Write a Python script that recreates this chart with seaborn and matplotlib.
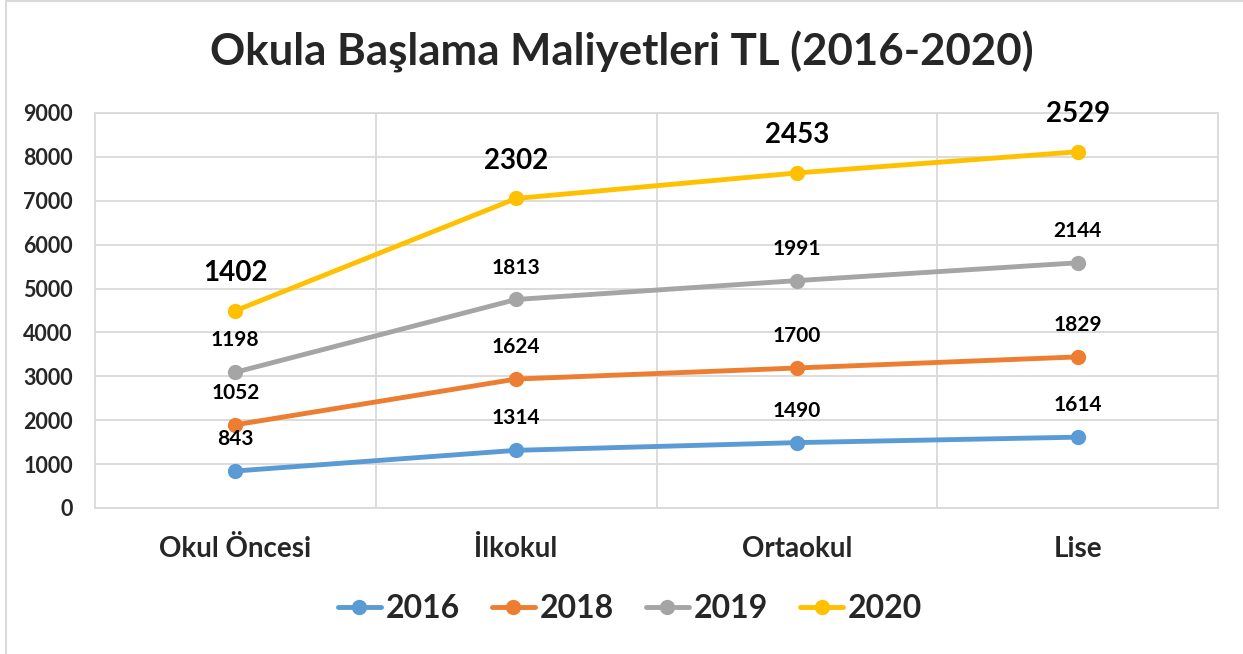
import pandas as pd
import seaborn as sns
import matplotlib.pyplot as plt
from matplotlib.patches import Rectangle

categories = ["Okul Öncesi", "İlkokul", "Ortaokul", "Lise"]
years = ["2016", "2018", "2019", "2020"]
cost_2016 = [843, 1314, 1490, 1614]
cost_2018 = [1052, 1624, 1700, 1829]
cost_2019 = [1198, 1813, 1991, 2144]
cost_2020 = [1402, 2302, 2453, 2529]
colors = ["#5B9BD5", "#ED7D31", "#A5A5A5", "#FFC000"]


def make_plot():
    # stacked lines: each series sits on top of the previous ones
    series = [cost_2016, cost_2018, cost_2019, cost_2020]
    rows = []
    running = [0] * len(categories)
    for year, vals in zip(years, series):
        running = [r + v for r, v in zip(running, vals)]
        for i, (cat, v, top) in enumerate(zip(categories, vals, running)):
            rows.append({"Kategori": cat, "pos": i, "Yıl": year, "deger": v, "toplam": top})
    df = pd.DataFrame(rows)

    sns.set_style("white")
    plt.rcParams["font.family"] = ["Lato", "DejaVu Sans"]
    plt.rcParams["font.weight"] = "bold"

    fig = plt.figure(figsize=(12.43, 6.54), dpi=100)
    ax = fig.add_axes([95 / 1243, 1 - 508 / 654, (1218 - 95) / 1243, (508 - 113) / 654])

    sns.lineplot(data=df, x="pos", y="toplam", hue="Yıl", palette=colors,
                 marker="o", markersize=11, markeredgewidth=0, linewidth=3.5, ax=ax)

    for year in years:
        sub = df[df["Yıl"] == year]
        big = year == "2020"
        for _, r in sub.iterrows():
            ax.annotate(str(r["deger"]), (r["pos"], r["toplam"]),
                        xytext=(0, 27 if big else 23), textcoords="offset points",
                        ha="center", va="center",
                        fontsize=20 if big else 15, fontweight="bold", color="black")

    ax.set_xlim(-0.5, 3.5)
    ax.set_ylim(0, 9000)
    ax.set_yticks(range(0, 9001, 1000))
    ax.set_xticks(range(len(categories)))
    ax.set_xticklabels(categories, fontsize=20, fontweight="bold")
    ax.tick_params(axis="y", labelsize=15.5, length=0, pad=16)
    ax.tick_params(axis="x", length=0, pad=20)
    for lbl in ax.get_yticklabels():
        lbl.set_fontweight("bold")
    ax.set_xlabel("")
    ax.set_ylabel("")

    ax.grid(axis="y", color="#D9D9D9", linewidth=1.3)
    for b in [0.5, 1.5, 2.5]:
        ax.axvline(b, color="#D9D9D9", linewidth=1.3, zorder=0)
    for s in ax.spines.values():
        s.set_color("#D9D9D9")
        s.set_linewidth(1.3)

    handles, labels = ax.get_legend_handles_labels()
    ax.legend(handles, labels, loc="center", bbox_to_anchor=(630 / 1243, 1 - 609 / 654),
              bbox_transform=fig.transFigure, ncol=4, frameon=False,
              prop={"size": 23, "weight": "bold"}, handlelength=1.35,
              handletextpad=0.15, columnspacing=1.0)

    fig.text(0.5, 1 - 52 / 654, "Okula Başlama Maliyetleri TL (2016-2020)",
             ha="center", va="center", fontsize=31.5, fontweight="bold")

    fig.patches.append(Rectangle((6 / 1243, -0.1), 1.2, 1.1 - 1 / 654, transform=fig.transFigure,
                                 fill=False, edgecolor="#D9D9D9", linewidth=1.5))

    fig.savefig("out.png", dpi=100)


if __name__ == "__main__":
    make_plot()
